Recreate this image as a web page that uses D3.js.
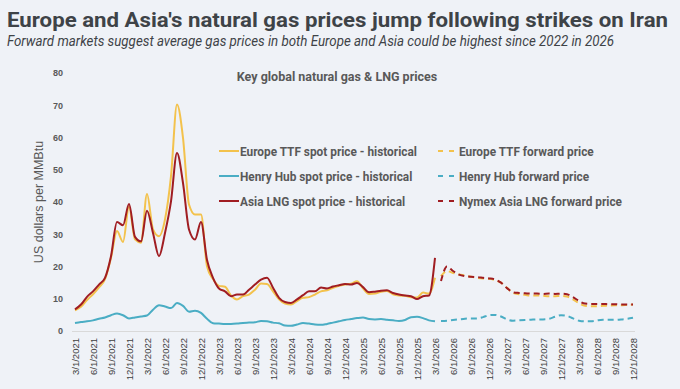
<!DOCTYPE html>
<html>
<head>
<meta charset="utf-8">
<script src="https://cdn.jsdelivr.net/npm/d3@7"></script>
<style>
  html, body { margin: 0; padding: 0; background: #eff2f7; }
  svg { display: block; }
</style>
</head>
<body>
<svg id="chart"></svg>
<script>
// monthly values, US$/MMBtu, 3/2021 .. 3/2026 (historical)
const ttfHist = [6.4, 7.5, 9.6, 11.4, 13.5, 16.1, 22.7, 31.0, 27.6, 38.5,
  28.4, 27.4, 42.5, 31.5, 29.4, 34.6, 48.0, 70.2, 59.9, 39.2,
  36.1, 36.1, 20.1, 16.1, 14.0, 13.7, 11.0, 9.8, 10.8, 11.3,
  12.8, 14.7, 14.6, 12.3, 9.8, 8.5, 8.2, 9.3, 10.3, 10.5,
  11.3, 12.3, 12.6, 13.4, 14.0, 14.4, 14.7, 15.4, 13.2, 11.5,
  11.6, 12.2, 12.4, 11.4, 11.0, 10.9, 10.5, 10.4, 11.9, 11.6, 16.5];
const hhHist = [2.5, 2.8, 3.0, 3.3, 3.8, 4.2, 4.9, 5.4, 4.9, 3.9,
  4.2, 4.5, 4.8, 6.6, 8.0, 7.6, 7.1, 8.7, 7.8, 6.0,
  6.3, 5.6, 3.8, 2.4, 2.3, 2.2, 2.2, 2.3, 2.5, 2.6,
  2.7, 3.1, 3.0, 2.6, 2.4, 1.7, 1.6, 2.0, 2.5, 2.3,
  2.0, 1.9, 2.2, 2.6, 3.0, 3.4, 3.7, 4.0, 4.2, 3.7,
  3.6, 3.7, 3.5, 3.3, 3.1, 3.4, 4.3, 4.4, 4.0, 3.3, 3.0];
const asiaHist = [6.7, 8.2, 10.6, 12.3, 14.4, 16.5, 23.2, 33.8, 32.8, 39.4,
  29.2, 27.8, 37.3, 30.4, 23.2, 30.4, 40.2, 55.2, 45.9, 31.5,
  28.4, 33.8, 22.0, 16.5, 13.2, 12.3, 10.8, 11.3, 11.3, 12.8,
  14.4, 15.9, 16.5, 13.4, 10.3, 9.0, 8.7, 9.8, 11.1, 12.3,
  12.3, 13.5, 13.2, 13.8, 14.2, 14.6, 14.4, 14.9, 13.6, 12.0,
  12.2, 12.5, 12.6, 11.8, 11.3, 11.0, 10.8, 9.9, 10.8, 11.0, 22.7];

// forward curves, 4/2026 .. 12/2028
const ttfFwd = [17.0, 18.6, 18.0, 17.5, 17.2, 16.8, 16.5, 16.3, 16.2, 15.8,
  15.0, 13.4, 11.8, 11.4, 11.2, 11.0, 11.0, 10.9, 10.8, 10.8,
  10.9, 10.7, 9.8, 8.6, 7.8, 7.7, 7.7, 7.8, 7.9, 8.0, 8.0, 8.1, 8.2];
const hhFwd = [3.1, 3.2, 3.4, 3.6, 3.8, 3.9, 3.9, 4.3, 4.9, 5.0,
  4.5, 3.6, 3.2, 3.3, 3.4, 3.5, 3.6, 3.6, 3.8, 4.4,
  4.9, 4.7, 3.9, 3.2, 3.0, 3.0, 3.3, 3.5, 3.5, 3.5, 3.6, 3.8, 4.1];
const asiaFwd = [15.5, 20.0, 18.6, 17.5, 17.0, 16.8, 16.7, 16.5, 16.3, 16.0,
  15.0, 13.3, 12.0, 11.8, 11.7, 11.6, 11.6, 11.5, 11.6, 11.5,
  11.6, 11.4, 10.5, 9.3, 8.5, 8.4, 8.4, 8.4, 8.3, 8.3, 8.2, 8.2, 8.2];

const startMonth = new Date(2021, 2, 1);
const endMonth = new Date(2028, 11, 1);
const yTicks = [0, 10, 20, 30, 40, 50, 60, 70, 80];

const histLabels = ["Europe TTF spot price - historical", "Henry Hub spot price - historical", "Asia LNG spot price - historical"];
const fwdLabels = ["Europe TTF forward price", "Henry Hub forward price", "Nymex Asia LNG forward price"];
const colors = ["#f3c24c", "#4aadc4", "#a01d22"];

const W = 680, H = 389;
const margin = { top: 73, right: 47, bottom: 58, left: 75 };
const innerW = W - margin.left - margin.right;
const innerH = H - margin.top - margin.bottom;

const months = d3.timeMonth.range(startMonth, d3.timeMonth.offset(endMonth, 1));
const fmt = d3.timeFormat("%-m/%-d/%Y");

const svg = d3.select("#chart").attr("width", W).attr("height", H);
svg.append("rect").attr("width", W).attr("height", H).attr("fill", "#eff2f7");

// title + subtitle
svg.append("text")
  .attr("x", 7).attr("y", 27)
  .attr("textLength", 661).attr("lengthAdjust", "spacingAndGlyphs")
  .style("font-family", "Roboto, sans-serif").style("font-weight", 700)
  .style("font-size", "21px").attr("fill", "#3e4347")
  .text("Europe and Asia's natural gas prices jump following strikes on Iran");
svg.append("text")
  .attr("x", 7).attr("y", 46)
  .attr("textLength", 607).attr("lengthAdjust", "spacingAndGlyphs")
  .style("font-family", "Roboto, sans-serif").style("font-style", "italic")
  .style("font-size", "14px").attr("fill", "#3e4347")
  .text("Forward markets suggest average gas prices in both Europe and Asia could be highest since 2022 in 2026");

const g = svg.append("g").attr("transform", `translate(${margin.left},${margin.top})`);

const x = d3.scaleLinear().domain([0, months.length - 1]).range([0, innerW]);
const y = d3.scaleLinear().domain([0, 80]).range([innerH, 0]);

// chart heading
g.append("text")
  .attr("x", 262).attr("y", 8)
  .attr("text-anchor", "middle")
  .style("font-family", "Roboto, sans-serif").style("font-weight", 700)
  .style("font-size", "12.5px").attr("fill", "#595959")
  .text("Key global natural gas & LNG prices");

// y axis
const yAxis = g.append("g")
  .attr("transform", "translate(-12,0)")
  .call(d3.axisLeft(y).tickValues(yTicks).tickSize(0).tickPadding(0));
yAxis.select(".domain").remove();
yAxis.selectAll("text")
  .style("font-family", "'Liberation Sans', Arial, sans-serif")
  .style("font-size", "9px").style("font-weight", 700).attr("fill", "#595959");

g.append("text")
  .attr("transform", `translate(-32,${innerH / 2}) rotate(-90)`)
  .attr("text-anchor", "middle")
  .style("font-family", "'Liberation Sans', Arial, sans-serif")
  .style("font-size", "12.5px").attr("fill", "#595959")
  .text("US dollars per MMBtu");

// x axis
const qIdx = d3.range(0, months.length, 3);
const xAxis = g.append("g")
  .attr("transform", `translate(0,${innerH})`)
  .call(d3.axisBottom(x).tickValues(qIdx).tickFormat(i => fmt(months[i])).tickSize(0).tickPadding(0));
xAxis.select(".domain").attr("stroke", "#d9d9d9").attr("d", `M-3,0.5H${innerW + 2}`);
xAxis.selectAll("text")
  .attr("transform", "translate(0,7) rotate(-90)")
  .attr("text-anchor", "end").attr("dy", "0.35em").attr("y", 0)
  .style("font-family", "'Liberation Sans', Arial, sans-serif")
  .style("font-size", "9.5px").attr("fill", "#404040");

// lines
const line = d3.line()
  .x(d => x(d[0])).y(d => y(d[1]))
  .curve(d3.curveMonotoneX);

const hist = [ttfHist, hhHist, asiaHist];
const fwd = [ttfFwd, hhFwd, asiaFwd];
const histStart = 0, fwdStart = ttfHist.length;

hist.forEach((s, k) => {
  g.append("path")
    .datum(s.map((v, i) => [histStart + i, v]))
    .attr("fill", "none").attr("stroke", colors[k]).attr("stroke-width", 2)
    .attr("stroke-linejoin", "round")
    .attr("d", line);
});
fwd.forEach((s, k) => {
  g.append("path")
    .datum(s.map((v, i) => [fwdStart + i, v]))
    .attr("fill", "none").attr("stroke", colors[k]).attr("stroke-width", 2)
    .attr("stroke-dasharray", "6,4")
    .attr("d", line);
});

// legend
const leg = g.append("g").attr("transform", "translate(144,78)");
const legendFont = sel => sel
  .style("font-family", "Roboto, sans-serif").style("font-weight", 700)
  .style("font-size", "13px").attr("fill", "#595959");

histLabels.forEach((t, k) => {
  const row = leg.append("g").attr("transform", `translate(0,${k * 25})`);
  row.append("line").attr("x1", 0).attr("x2", 20).attr("stroke", colors[k]).attr("stroke-width", 2);
  const tx = row.append("text").attr("x", 21).attr("dy", "0.35em").text(t).call(legendFont);
  tx.attr("textLength", tx.node().getComputedTextLength() * 0.91).attr("lengthAdjust", "spacingAndGlyphs");
});
fwdLabels.forEach((t, k) => {
  const row = leg.append("g").attr("transform", `translate(219,${k * 25})`);
  row.append("line").attr("x1", 0).attr("x2", 17).attr("stroke", colors[k]).attr("stroke-width", 2)
    .attr("stroke-dasharray", "5,6");
  const tx = row.append("text").attr("x", 21).attr("dy", "0.35em").text(t).call(legendFont);
  tx.attr("textLength", tx.node().getComputedTextLength() * 0.91).attr("lengthAdjust", "spacingAndGlyphs");
});
</script>
</body>
</html>
